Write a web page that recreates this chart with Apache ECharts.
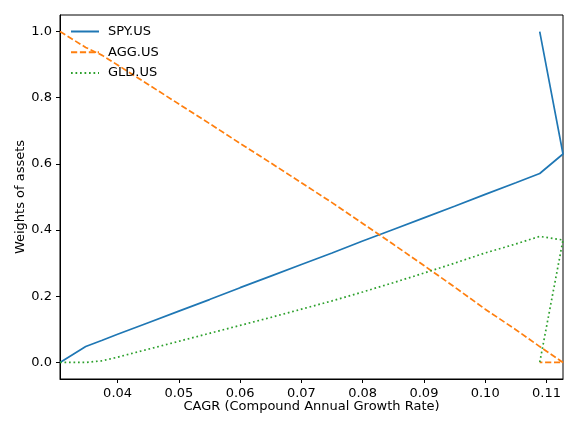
<!DOCTYPE html>
<html>
<head>
<meta charset="utf-8">
<script src="https://cdn.jsdelivr.net/npm/echarts@6/dist/echarts.min.js"></script>
<style>
  html, body { margin: 0; padding: 0; background: #fff; }
  #chart { width: 576px; height: 432px; }
</style>
</head>
<body>
<div id="chart"></div>
<script>
// datos
const cagr = [0.0306, 0.0348, 0.0375, 0.04, 0.045, 0.05, 0.055, 0.06, 0.065, 0.07,
              0.075, 0.08, 0.085, 0.09, 0.095, 0.10, 0.105, 0.1089, 0.1127, 0.1089];
const spy = [0.0, 0.048, 0.067, 0.085, 0.120, 0.155, 0.190, 0.226, 0.261, 0.296,
             0.331, 0.367, 0.402, 0.437, 0.472, 0.508, 0.543, 0.571, 0.630, 1.0];
const agg = [1.0, 0.952, 0.928, 0.899, 0.840, 0.781, 0.722, 0.662, 0.603, 0.543,
             0.483, 0.420, 0.357, 0.293, 0.228, 0.161, 0.099, 0.048, 0.0, 0.0];
const gld = [0.0, 0.0, 0.005, 0.016, 0.040, 0.064, 0.088, 0.112, 0.136, 0.161,
             0.186, 0.213, 0.241, 0.270, 0.300, 0.331, 0.358, 0.381, 0.370, 0.0];
const xTicks = [0.04, 0.05, 0.06, 0.07, 0.08, 0.09, 0.10, 0.11];
const yTicks = [0.0, 0.2, 0.4, 0.6, 0.8, 1.0];

const fuente = 'DejaVu Sans';
const tam = 13;
const pares = serie => cagr.map((x, i) => [x, serie[i]]);

const eje = {
  axisLine: { show: true, onZero: false, lineStyle: { color: '#000', width: 1 } },
  axisTick: { show: true, length: 4, lineStyle: { color: '#000', width: 1 } },
  axisLabel: { color: '#000', fontFamily: fuente, fontSize: tam, margin: 8 },
  splitLine: { show: false },
  nameMoveOverlap: false,
  nameTextStyle: { color: '#000', fontFamily: fuente, fontSize: tam }
};

const opciones = {
  animation: false,
  backgroundColor: '#fff',
  grid: { left: 60, right: 13, top: 15, bottom: 53, show: true, borderColor: '#000', borderWidth: 1 },
  legend: {
    left: 65, top: 20, orient: 'vertical', itemWidth: 28, itemHeight: 10, itemGap: 7.7,
    itemStyle: { opacity: 0 },
    textStyle: { color: '#000', fontFamily: fuente, fontSize: tam, padding: [0, 0, 0, 4] },
    data: ['SPY.US', 'AGG.US', 'GLD.US']
  },
  xAxis: Object.assign({}, eje, {
    type: 'value', min: 0.0306, max: 0.1127,
    name: 'CAGR (Compound Annual Growth Rate)', nameLocation: 'middle', nameGap: 21,
    axisTick: Object.assign({}, eje.axisTick, { customValues: xTicks }),
    axisLabel: Object.assign({}, eje.axisLabel, { customValues: xTicks, formatter: v => v.toFixed(2) })
  }),
  yAxis: Object.assign({}, eje, {
    type: 'value', min: -0.05, max: 1.05,
    name: 'Weights of assets', nameLocation: 'middle', nameGap: 33,
    axisTick: Object.assign({}, eje.axisTick, { customValues: yTicks }),
    axisLabel: Object.assign({}, eje.axisLabel, { customValues: yTicks, formatter: v => v.toFixed(1) })
  }),
  series: [
    { name: 'SPY.US', type: 'line', data: pares(spy), symbol: 'none', color: '#1f77b4',
      lineStyle: { color: '#1f77b4', width: 1.7 } },
    { name: 'AGG.US', type: 'line', data: pares(agg), symbol: 'none', color: '#ff7f0e',
      lineStyle: { color: '#ff7f0e', width: 1.7, type: [6.2, 2.7] } },
    { name: 'GLD.US', type: 'line', data: pares(gld), symbol: 'none', color: '#2ca02c',
      lineStyle: { color: '#2ca02c', width: 1.7, type: [1.7, 2.8] } }
  ]
};

const miGrafico = echarts.init(document.getElementById('chart'), null, { renderer: 'canvas' });
miGrafico.setOption(opciones);
</script>
</body>
</html>
